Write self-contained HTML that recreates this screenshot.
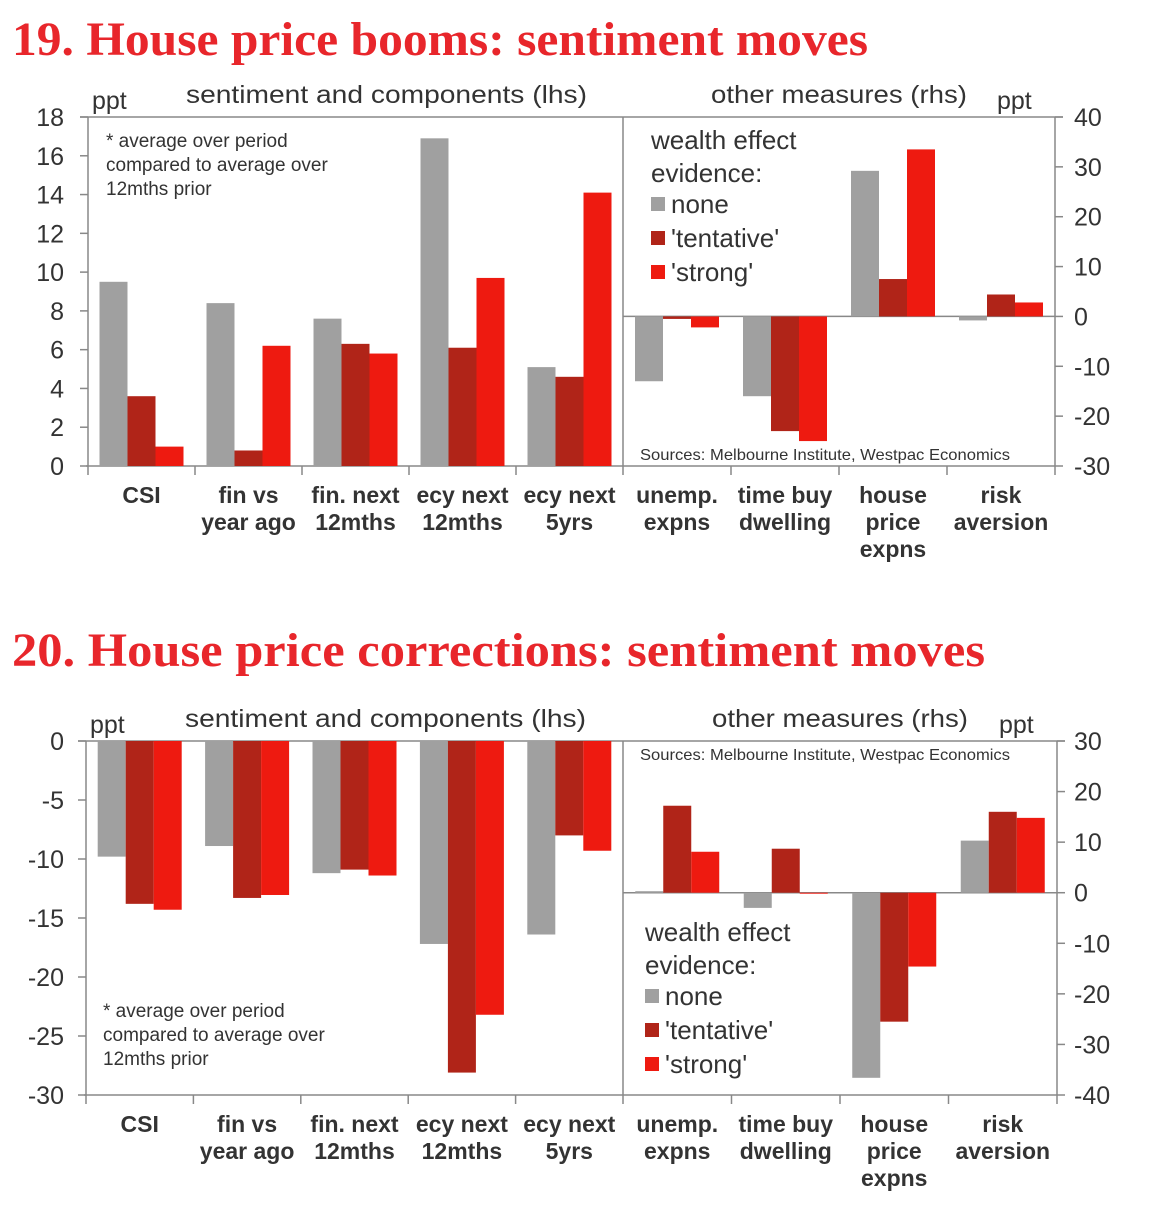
<!DOCTYPE html>
<html><head><meta charset="utf-8">
<style>
body{margin:0;background:#fff;width:1150px;height:1219px;overflow:hidden}
svg{display:block;font-family:"Liberation Sans",Arial,sans-serif}
</style></head>
<body>
<svg id="s" width="1150" height="1219" viewBox="0 0 1150 1219"></svg>
<script>
const categories=[["CSI"],["fin vs","year ago"],["fin. next","12mths"],["ecy next","12mths"],["ecy next","5yrs"],["unemp.","expns"],["time buy","dwelling"],["house","price","expns"],["risk","aversion"]];
const c1None=[9.5,8.4,7.6,16.9,5.1,-13,-16,29.2,-0.8];
const c1Tent=[3.6,0.8,6.3,6.1,4.6,-0.5,-23,7.5,4.4];
const c1Strong=[1.0,6.2,5.8,9.7,14.1,-2.2,-25,33.5,2.8];
const c2None=[-9.8,-8.9,-11.2,-17.2,-16.4,0.3,-3,-36.6,10.3];
const c2Tent=[-13.8,-13.3,-10.9,-28.1,-8.0,17.2,8.7,-25.5,16];
const c2Strong=[-14.3,-13.05,-11.4,-23.2,-9.3,8.1,0,-14.6,14.8];
const c1LeftTicks=[0,2,4,6,8,10,12,14,16,18];
const c1RightTicks=[-30,-20,-10,0,10,20,30,40];
const c2LeftTicks=[-30,-25,-20,-15,-10,-5,0];
const c2RightTicks=[-40,-30,-20,-10,0,10,20,30];
const cols=["#a0a0a0","#b02418","#ee1a10"];
const NS="http://www.w3.org/2000/svg";
const svg=document.getElementById('s');
function mk(t,a,p){const e=document.createElementNS(NS,t);for(const k in a)e.setAttribute(k,a[k]);(p||svg).appendChild(e);return e;}
function txt(x,y,s,sz,opt,name){const e=mk('text',Object.assign({x:x,y:y,'font-size':sz,fill:'#333'},opt||{}));e.textContent=s;

return e;}
function stretch(e,w){e.setAttribute('textLength',w);e.setAttribute('lengthAdjust','spacingAndGlyphs');}

function chart(o){
  const g=mk('g',{});
  
  
  const t=txt(12,o.titleY,o.title,48,{fill:'#e8262b','font-family':'"Liberation Serif",serif','font-weight':'bold'},'chart-title');
  stretch(t,o.titleW);
  g.appendChild(t);
  const L=o.x0,R=o.x1,D=623,T=o.top,B=o.bot;
  const yl=v=>B-(v-o.lmin)/(o.lmax-o.lmin)*(B-T);
  const yr=v=>B-(v-o.rmin)/(o.rmax-o.rmin)*(B-T);
  const ln=(x1,y1,x2,y2,n)=>{const e=mk('line',{x1,y1,x2,y2,stroke:'#888','stroke-width':1.5},g);
    
    };
  ln(L-8,T,R+8,T,'plot-top-border');ln(L,T,L,B,'left-axis');ln(R,T,R,B,'right-axis');ln(D,T,D,B,'divider');
  ln(L-2,B,R,B,'x-axis');ln(D,yr(0),R,yr(0),'rhs-zero-line');
  o.lt.forEach(v=>{ln(L-8,yl(v),L,yl(v),'left-tick');const e=txt(64,yl(v)+9,String(v),25,{'text-anchor':'end'},'left-tick-label');g.appendChild(e);});
  o.rt.forEach(v=>{ln(R,yr(v),R+8,yr(v),'right-tick');const e=txt(1074,yr(v)+9,String(v),25,{},'right-tick-label');g.appendChild(e);});
  const gw=[];for(let i=0;i<5;i++)gw.push([L+i*(D-L)/5,(D-L)/5]);for(let i=0;i<4;i++)gw.push([D+i*(R-D)/4,(R-D)/4]);
  gw.forEach((gg,i)=>{if(i>0)ln(gg[0],B,gg[0],B+9,'x-tick');
    const isR=i>=5,ys=isR?yr:yl;const bw=28,pad=(gg[1]-3*bw)/2;
    [o.s0,o.s1,o.s2].forEach((ser,j)=>{const v=ser[i];const y0=ys(0),y1=ys(v);
      const r=mk('rect',{x:gg[0]+pad+j*bw,y:Math.min(y0,y1),width:bw,height:Math.max(Math.abs(y1-y0),1),fill:cols[j]},g);
      
      });
    categories[i].forEach((s,k)=>{const e=txt(gg[0]+gg[1]/2,B+37+k*27,s,23,{'text-anchor':'middle','font-weight':'bold'},'category-label');g.appendChild(e);});
  });
  ln(L,B,L,B+9,'x-tick');ln(R,B,R,B+9,'x-tick');
  let e;
  e=txt(o.pptX,T-8,'ppt',25,{},'axis-heading');g.appendChild(e);
  e=txt(o.h1X,T-14,'sentiment  and components (lhs)',25,{'xml:space':'preserve'},'axis-heading');stretch(e,401);g.appendChild(e);
  e=txt(o.h2X,T-14,'other measures (rhs)',25,{},'axis-heading');stretch(e,256);g.appendChild(e);
  e=txt(R-58,T-8,'ppt',25,{},'axis-heading');g.appendChild(e);
  o.note.forEach((s,k)=>{const e=txt(o.noteX,o.noteY+k*24,s,19,{},'footnote');g.appendChild(e);});
  e=txt(o.srcX,o.srcY,'Sources: Melbourne Institute, Westpac Economics',16,{},'source-note');stretch(e,370);g.appendChild(e);
  ['wealth effect','evidence:'].forEach((s,k)=>{const e=txt(o.legX,o.legY+k*33,s,26,{},'legend-title');g.appendChild(e);});
  ['none',"'tentative'","'strong'"].forEach((s,k)=>{const y=o.legY+64+k*34;
    const r=mk('rect',{x:o.legX,y:y-16,width:14,height:14,fill:cols[k]},g);
    
    
    const e=txt(o.legX+20,y,s,26,{},'legend-entry');g.appendChild(e);});
}
chart({name:'chart-19',title:'19. House price booms: sentiment moves',titleY:55,titleW:856,x0:88,x1:1055,top:117,bot:466,lmin:0,lmax:18,rmin:-30,rmax:40,
 lt:c1LeftTicks,rt:c1RightTicks,s0:c1None,s1:c1Tent,s2:c1Strong,pptX:92,h1X:186,h2X:711,
 note:['* average over period','compared to average over','12mths prior'],noteX:106,noteY:147,srcX:640,srcY:460,legX:651,legY:149});
chart({name:'chart-20',title:'20. House price corrections: sentiment moves',titleY:666,titleW:973,x0:86,x1:1057,top:741,bot:1095,lmin:-30,lmax:0,rmin:-40,rmax:30,
 lt:c2LeftTicks,rt:c2RightTicks,s0:c2None,s1:c2Tent,s2:c2Strong,pptX:90,h1X:185,h2X:712,
 note:['* average over period','compared to average over','12mths prior'],noteX:103,noteY:1017,srcX:640,srcY:760,legX:645,legY:941});
</script>
</body></html>
